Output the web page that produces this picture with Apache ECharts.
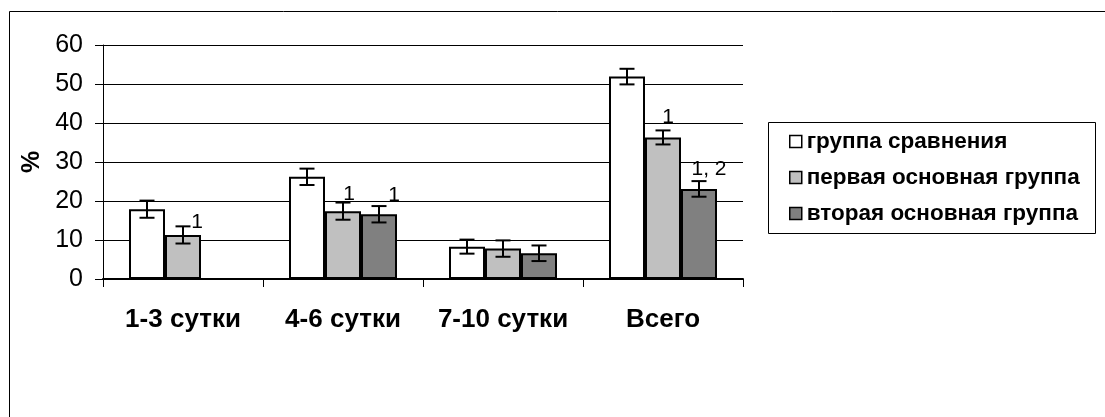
<!DOCTYPE html>
<html>
<head>
<meta charset="utf-8">
<script src="https://cdn.jsdelivr.net/npm/echarts@6/dist/echarts.min.js"></script>
<style>
html,body{margin:0;padding:0;background:#fff;}
#chart{width:1105px;height:417px;}
</style>
</head>
<body>
<div id="chart"></div>
<script>
const categories = ['1-3 сутки', '4-6 сутки', '7-10 сутки', 'Всего'];
const seriesNames = ['группа сравнения', 'первая основная группа', 'вторая основная группа'];
const compareGroup = [17.9, 26.2, 8.3, 51.9];
const firstGroup = [11.3, 17.4, 7.8, 36.3];
const secondGroup = [null, 16.6, 6.6, 23.1];
const compareErr = [2.2, 2.1, 1.8, 2.0];
const firstErr = [2.2, 2.2, 2.1, 1.8];
const secondErr = [null, 2.1, 2.0, 2.0];
const firstMarks = ['1', '1', '', '1'];
const secondMarks = ['', '1', '', '1, 2'];
const yTicks = [0, 10, 20, 30, 40, 50, 60];

// styling
const FONT = 'Liberation Sans, Arial, sans-serif';
const BAR_W = 36;
const CAP = 15;
const colors = ['#ffffff', '#c0c0c0', '#808080'];
const firstOffsets = [[14, -2], [6, -6], [0, 0], [5, -10]];
const secondOffsets = [[0, 0], [15, -9], [0, 0], [10, -9]];

const chart = echarts.init(document.getElementById('chart'), null, {renderer: 'canvas'});

function barSeries(idx, vals, marks, offsets) {
  return {
    type: 'bar',
    name: seriesNames[idx],
    barWidth: BAR_W,
    barGap: '0%',
    itemStyle: {color: colors[idx], borderColor: '#000', borderWidth: 2},
    emphasis: {disabled: true},
    data: vals.map((v, i) => {
      const item = {value: v == null ? '-' : v};
      if (marks && marks[i]) {
        item.label = {
          show: true, position: 'top', distance: 0,
          formatter: marks[i], offset: offsets[i],
          fontFamily: FONT, fontSize: 21, color: '#000'
        };
      }
      return item;
    })
  };
}

function errSeries(idx, vals, errs) {
  const data = [];
  vals.forEach((v, i) => { if (v != null) data.push([i, v - errs[i], v + errs[i]]); });
  return {
    type: 'custom',
    z: 10,
    silent: true,
    encode: {x: 0, y: [1, 2]},
    data: data,
    renderItem: function (params, api) {
      const x = api.value(0);
      const lo = api.coord([x, api.value(1)]);
      const hi = api.coord([x, api.value(2)]);
      const cx = Math.round(lo[0] + (idx - 1) * BAR_W);
      const h = CAP / 2;
      const st = {stroke: '#000', lineWidth: 2};
      return {
        type: 'group',
        children: [
          {type: 'line', shape: {x1: cx, y1: lo[1], x2: cx, y2: hi[1]}, style: st},
          {type: 'line', shape: {x1: cx - h, y1: lo[1], x2: cx + h, y2: lo[1]}, style: st},
          {type: 'line', shape: {x1: cx - h, y1: hi[1], x2: cx + h, y2: hi[1]}, style: st}
        ]
      };
    }
  };
}

const option = {
  animation: false,
  backgroundColor: '#fff',
  textStyle: {fontFamily: FONT},
  graphic: [
    {type: 'rect', shape: {x: 9.5, y: 11.5, width: 1200, height: 600},
     style: {fill: 'none', stroke: '#000', lineWidth: 1}, z: 100, silent: true},
    {type: 'rect', shape: {x: 768.5, y: 122.5, width: 327, height: 111},
     style: {fill: 'none', stroke: '#000', lineWidth: 1}, z: 100, silent: true}
  ],
  legend: {
    orient: 'vertical',
    left: 789,
    top: 130,
    padding: 0,
    itemGap: 13,
    itemWidth: 12,
    itemHeight: 12,
    itemTextGap: 8,
    data: seriesNames,
    icon: 'rect',
    itemStyle: {borderColor: '#000', borderWidth: 1.5},
    textStyle: {fontFamily: FONT, fontSize: 22.5, fontWeight: 'bold', color: '#000'}
  },
  grid: {left: 103, top: 45, width: 640, height: 234, containLabel: false},
  xAxis: {
    type: 'category',
    data: categories,
    axisLine: {lineStyle: {color: '#000', width: 2}},
    axisTick: {show: true, length: 8, lineStyle: {color: '#000', width: 1}},
    axisLabel: {interval: 0, hideOverlap: false, margin: 28, fontFamily: FONT, fontSize: 26, fontWeight: 'bold', color: '#000'}
  },
  yAxis: {
    type: 'value',
    min: yTicks[0],
    max: yTicks[yTicks.length - 1],
    interval: 10,
    name: '%',
    nameLocation: 'middle',
    nameGap: 58,
    nameTextStyle: {fontFamily: FONT, fontSize: 25, fontWeight: 'bold', color: '#000'},
    axisLine: {show: true, lineStyle: {color: '#000', width: 1}},
    axisTick: {show: true, length: 8, lineStyle: {color: '#000'}},
    axisLabel: {margin: 20, fontFamily: FONT, fontSize: 25, color: '#000'},
    splitLine: {show: true, lineStyle: {color: '#000', width: 1}}
  },
  series: [
    barSeries(0, compareGroup, null, null),
    barSeries(1, firstGroup, firstMarks, firstOffsets),
    barSeries(2, secondGroup, secondMarks, secondOffsets),
    errSeries(0, compareGroup, compareErr),
    errSeries(1, firstGroup, firstErr),
    errSeries(2, secondGroup, secondErr)
  ]
};
chart.setOption(option);
</script>
</body>
</html>
